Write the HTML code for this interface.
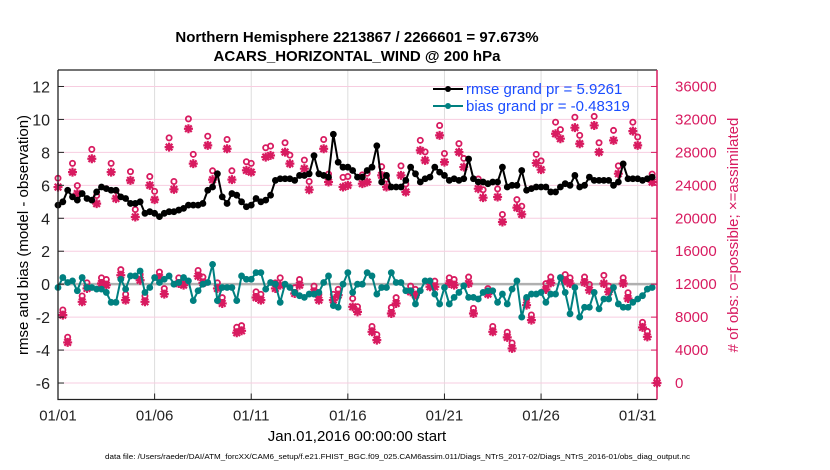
<!DOCTYPE html>
<html><head><meta charset="utf-8"><style>
body{margin:0;background:#fff;}
svg{display:block;font-family:"Liberation Sans",Arial,sans-serif;}
</style></head><body>
<svg id="chart" width="830" height="470" viewBox="0 0 830 470">
<g id="grid"></g>
<g id="series"></g>
<g id="axes"></g>
<text x="357" y="42" text-anchor="middle" font-size="15" font-weight="bold">Northern Hemisphere 2213867 / 2266601 = 97.673%</text>
<text x="357" y="61" text-anchor="middle" font-size="15" font-weight="bold">ACARS_HORIZONTAL_WIND @ 200 hPa</text>
<text transform="translate(28,235) rotate(-90)" text-anchor="middle" font-size="15">rmse and bias (model - observation)</text>
<text transform="translate(738,235) rotate(-90)" text-anchor="middle" font-size="15" fill="#d81b60">#&#160;of obs: o=possible; ×=assimilated</text>
<text x="357" y="441" text-anchor="middle" font-size="15">Jan.01,2016 00:00:00 start</text>
<text x="105" y="459" font-size="7.5" textLength="585" lengthAdjust="spacingAndGlyphs">data file: /Users/raeder/DAI/ATM_forcXX/CAM6_setup/f.e21.FHIST_BGC.f09_025.CAM6assim.011/Diags_NTrS_2017-02/Diags_NTrS_2016-01/obs_diag_output.nc</text>
<g>
<line x1="433" y1="89" x2="463" y2="89" stroke="#000" stroke-width="2"/><circle cx="448" cy="89" r="3" fill="#000"/>
<text x="466" y="94" font-size="15" fill="#1a4dff">rmse grand pr = 5.9261</text>
<line x1="433" y1="106" x2="463" y2="106" stroke="#008080" stroke-width="2"/><circle cx="448" cy="106" r="3" fill="#008080"/>
<text x="466" y="111" font-size="15" fill="#1a4dff">bias grand pr = -0.48319</text>
</g>
</svg>
<script>
const rmse=[4.8,5.0,5.7,5.3, 5.1,5.5,5.2,5.1, 5.6,5.9,5.8,5.7, 5.7,5.3,5.2,4.9, 4.9,5.0,4.3,4.4, 4.3,4.1,4.3,4.4, 4.4,4.5,4.6,4.8, 4.8,4.8,4.9,5.7, 5.9,6.7,5.3,4.9, 5.5,5.4,5.0,4.7, 4.8,5.2,5.0,5.1, 5.4,6.3,6.4,6.4, 6.4,6.3,6.6,6.6, 6.7,7.8,6.7,6.6, 6.5,9.1,7.4,7.1, 7.1,6.9,6.5,6.5, 6.9,7.1,8.4,6.2, 6.6,5.9,5.9,5.9, 6.3,7.1,6.7,6.2, 6.4,6.5,7.1,6.8, 6.6,6.3,6.4,6.3, 6.4,7.6,6.4,6.2, 6.2,6.1,6.2,6.2, 7.1,5.9,6.0,6.0, 6.9,5.7,5.8,5.9, 5.9,5.9,5.6,5.6, 5.9,6.1,6.0,6.6, 5.9,6.0,6.5,6.3, 6.3,6.3,6.3,6.0, 6.2,7.3,6.4,6.4, 6.4,6.3,6.4,6.5];
const bias=[-0.2,0.4,0.1,0.2, -0.4,0.4,-0.2,-0.2, -0.3,-0.3,-0.5,-1.1, -1.1,0.3,-0.3,0.5, 0.5,0.8,-0.5,-0.2, 0.4,0.1,0.3,0.5, 0.0,0.1,0.4,0.2, -1.0,-0.4,0.0,0.1, 1.2,-1.0,-0.2,-0.2, -0.2,-1.0,0.5,0.3, 0.3,0.7,0.7,-0.3, 0.1,0.0,-1.1,0.0, -0.2,-0.5,-0.7,-0.8, -0.6,-0.6,-0.5,0.1, 0.5,-1.3,-1.4,0.0, 0.7,-0.5,0.0,0.0, 0.7,0.5,-0.6,-0.2, -0.2,0.7,0.1,0.1, -0.4,-0.4,-1.2,-0.4, 0.2,0.2,-0.6,-1.2, -0.2,-1.2,-0.8,-0.5, -0.1,-0.8,-0.8,-0.9, -0.5,-0.4,-0.4,-1.1, -0.6,-1.2,-0.3,0.2, -2.0,-0.8,-0.6,-0.6, -0.5,-1.1,-0.6,-0.6, 0.4,-0.5,-1.8,-0.2, -2.0,-1.4,-1.4,-0.5, -1.5,-0.9,-0.9,-0.2, -1.2,-1.4,-1.4,-1.1, -0.9,-0.7,-0.3,-0.2];
const nAssim=[23790,8240,4930,25600,23000,9860,11480,27230,21780,12080,11880,25600,22390,13090,10060,24600,20160,12480,9860,24000,22260,12810,10790,28640,23510,12080,11880,30870,26630,12970,12160,28850,24690,11480,9660,28440,24690,6100,6340,25820,25600,10380,10060,27430,
27630,11480,11880,28030,26630,10870,11880,26020,23470,11070,10060,28440,24400,10060,10670,23790,24000,9250,8640,24200,24400,6220,5210,25210,23790,8440,9660,25210,23190,11070,10670,28240,27030,11680,11680,30060,26820,12080,11880,28030,26220,
12080,8440,23590,22500,10790,6220,22580,19550,5540,4200,21290,20480,9450,7640,26700,25900,11350,12160,30260,29660,12400,12080,31000,29050,12200,11270,31270,28030,12080,11070,29450,25410,12080,10260,30580,28850,6750,5610,24400,0];
const nPoss=[24500,8500,5200,26300,23600,10200,11800,28000,22400,12400,12200,26300,23000,13400,10400,25300,20700,12800,10200,24700,22900,13100,11100,29400,24100,12400,12200,31700,27400,13300,12500,29600,25400,11800,10000,29200,25400,6400,6600,26500,26300,10700,10400,28200,
28400,11800,12400,28800,27300,11200,12200,26700,24100,11400,10400,29200,25000,10400,11000,24600,24700,9900,8900,24900,25100,6500,5500,25900,24400,8800,10000,26000,23800,11400,11000,29100,27700,12000,12000,30900,27500,12400,12200,28700,26900,
12500,8700,24400,23100,11100,6500,23200,20100,5800,4500,21900,21100,9800,7900,27400,26600,11700,12500,31300,30400,12800,12400,31900,29700,12500,11600,32000,28800,12700,11400,30300,26000,12400,10600,31300,29500,7000,5900,25000,0];
const xTickDays=[0,5,10,15,20,25,30];
const xTickLabels=["01/01","01/06","01/11","01/16","01/21","01/26","01/31"];
const yTicks=[-6,-4,-2,0,2,4,6,8,10,12];
const y2Ticks=[0,4000,8000,12000,16000,20000,24000,28000,32000,36000];

const L=58,R=657,T=70,B=399.5;
const X=d=>L+(d/31)*(R-L);
const Y=v=>B-(v+7)/20*(B-T);
const Y2=n=>Y(n/2000-6);
const NS="http://www.w3.org/2000/svg";
function mk(tag,attrs,parent){const e=document.createElementNS(NS,tag);for(const k in attrs)e.setAttribute(k,attrs[k]);parent.appendChild(e);return e;}
const gridG=document.getElementById('grid'),ser=document.getElementById('series'),ax=document.getElementById('axes');

xTickDays.forEach((d,i)=>{
  const g=mk('line',{x1:X(d),x2:X(d),y1:T,y2:B,stroke:'#ddd','stroke-width':1},gridG);
  
  
  const t=mk('line',{x1:X(d),x2:X(d),y1:B,y2:B-6,stroke:'#222','stroke-width':1},ax);
  
  
  const lb=mk('text',{x:X(d),y:B+21,'text-anchor':'middle','font-size':15,fill:'#222'},ax);
  lb.textContent=xTickLabels[i];
  
  
});
y2Ticks.forEach(n=>{
  const y=Y2(n);
  const g=mk('line',{x1:L,x2:R,y1:y,y2:y,stroke:'#f7cde0','stroke-width':1},gridG);
  
  
  const t=mk('line',{x1:R,x2:R-6,y1:y,y2:y,stroke:'#d81b60','stroke-width':1},ax);
  
  
  const lb=mk('text',{x:R+18,y:y+5,'font-size':15,fill:'#d81b60'},ax);
  lb.textContent=String(n);
  
  
});
yTicks.forEach(v=>{
  const y=Y(v);
  const t=mk('line',{x1:L,x2:L+6,y1:y,y2:y,stroke:'#222','stroke-width':1},ax);
  
  
  const lb=mk('text',{x:L-8,y:y+6,'text-anchor':'end','font-size':16,fill:'#222'},ax);
  lb.textContent=String(v);
  
  
});
const zl=mk('line',{x1:L,x2:R,y1:Y(0),y2:Y(0),stroke:'#b0b0b0','stroke-width':2.5},gridG);



const red='#d81b60';
nPoss.forEach((n,i)=>{
  const c=mk('circle',{cx:X(i/4),cy:Y2(n)-3,r:2.6,fill:'none',stroke:red,'stroke-width':1.8},ser);
  
  
});
nAssim.forEach((n,i)=>{
  const x=X(i/4),y=Y2(n),r=4.5;
  const p=mk('path',{d:`M${x-r} ${y}H${x+r}M${x} ${y-r}V${y+r}M${x-3.3} ${y-3.3}L${x+3.3} ${y+3.3}M${x-3.3} ${y+3.3}L${x+3.3} ${y-3.3}`,stroke:red,'stroke-width':2.2,fill:'none'},ser);
  
  
  const c=mk('circle',{cx:x,cy:y,r:2.5,fill:red},ser);
  
  
});
function drawLine(vals,col,name){
  const pts=vals.map((v,i)=>X(i/4)+','+Y(v)).join(' ');
  const pl=mk('polyline',{points:pts,fill:'none',stroke:col,'stroke-width':2},ser);
  
  
  vals.forEach((v,i)=>{
    const c=mk('circle',{cx:X(i/4),cy:Y(v),r:3.4,fill:col},ser);
    
    
  });
}
drawLine(bias,'#008080','bias');
drawLine(rmse,'#000000','rmse');

const frame=mk('path',{d:`M${L} ${T}V${B}H${R}`,fill:'none',stroke:'#222','stroke-width':1.3},ax);


const topBorder=mk('line',{x1:L,x2:R,y1:T,y2:T,stroke:'#222','stroke-width':1.3},ax);


const rightAxis=mk('line',{x1:R,x2:R,y1:T,y2:B,stroke:red,'stroke-width':1.5},ax);


</script>
</body></html>
